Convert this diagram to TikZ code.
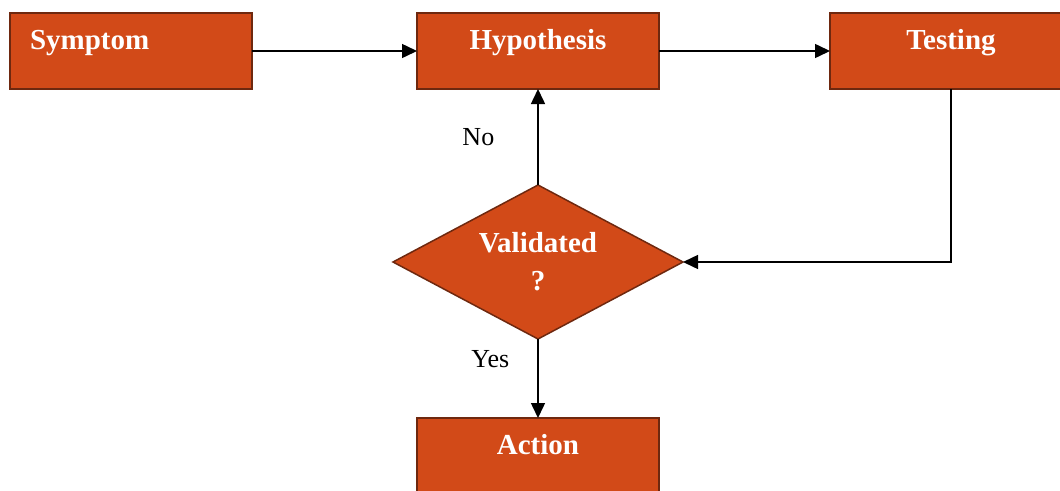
\documentclass[tikz,border=0pt]{standalone}
\usepackage{fontspec}
\setmainfont{Liberation Serif}
\usetikzlibrary{arrows.meta, positioning, shapes.geometric}
\definecolor{boxfill}{RGB}{210,74,24}
\definecolor{boxline}{RGB}{110,40,15}

\begin{document}
\begin{tikzpicture}[x=1pt,y=1pt,->,>={Triangle[length=15pt,width=14pt]},line width=1.5pt,
    stepbox/.style={rectangle, draw=boxline, fill=boxfill, text=white,
        minimum width=242pt, minimum height=76pt, inner sep=0pt, outer sep=0pt,
        font=\fontsize{29}{34}\selectfont\bfseries, text height=20pt, text depth=23pt},
    decision/.style={diamond, draw=boxline, fill=boxfill, text=white, aspect=1.88,
        minimum width=290pt, minimum height=154pt, inner sep=0pt, outer sep=0pt, align=center,
        font=\fontsize{29}{38}\selectfont\bfseries},
    answer/.style={inner sep=0pt, font=\fontsize{26}{30}\selectfont}]
                \useasboundingbox (0,0) rectangle (1060,-490);
                \node[stepbox, text width=202pt, align=left] (symptom) at (131,-51) {Symptom};
                \node[stepbox] (hypothesis) [right=165pt of symptom] {Hypothesis};
                \node[stepbox] (testing) [right=171pt of hypothesis] {Testing};
                \node[decision] (validated) [below=96pt of hypothesis] {Validated\\?};
                \node[stepbox] (action) [below=79pt of validated] {Action};
                \draw (symptom) -- (hypothesis);
                \draw (hypothesis) -- (testing);
                \draw (testing.south) |- (validated.east);
                \draw (validated.north) -- node[answer, left=43pt] {No} (hypothesis.south);
                \draw (validated.south) -- node[answer, pos=0.25, left=28pt] {Yes} (action.north);
\end{tikzpicture}
\end{document}
